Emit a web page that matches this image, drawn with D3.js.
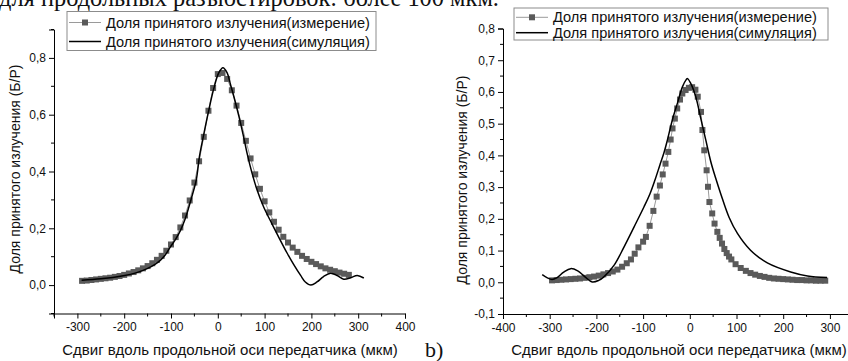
<!DOCTYPE html>
<html>
<head>
<meta charset="utf-8">
<script src="https://cdn.jsdelivr.net/npm/d3@7/dist/d3.min.js"></script>
<style>
  html, body { margin: 0; padding: 0; background: #fff; }
  svg { display: block; }
  text { font-family: "Liberation Sans", Arial, sans-serif; fill: #111; }
  .serif { font-family: "Liberation Serif", "Times New Roman", serif; }
</style>
</head>
<body>
<svg id="chart" width="848" height="361"></svg>
<script>
// ---- Panel a: measured and simulated received fraction ----
const measAX = [-290,-280,-270,-260,-250,-240,-230,-220,-210,-200,-190,-180,-170,-160,-150,-140,-130,-120,-110,-100,-90,-80,-70,-60,-50,-40,-30,-20,-10,0,10,20,30,40,50,60,70,80,90,100,110,120,130,140,150,160,170,180,190,200,210,220,230,240,250,260,270,280];
const measAY = [0.015,0.016,0.018,0.020,0.022,0.024,0.026,0.029,0.032,0.036,0.041,0.046,0.052,0.059,0.067,0.077,0.089,0.103,0.121,0.143,0.169,0.203,0.245,0.298,0.361,0.436,0.522,0.614,0.694,0.743,0.747,0.726,0.686,0.632,0.571,0.508,0.446,0.390,0.339,0.295,0.256,0.223,0.195,0.170,0.150,0.132,0.117,0.103,0.092,0.082,0.074,0.066,0.059,0.054,0.049,0.044,0.040,0.036];
const simAX = [-291,-250,-202,-175,-152,-135,-123,-112,-102,-90,-80,-70,-62,-54,-46,-39,-30,-20,-9,2,11,20,27,34,45,54,63,73,84,98,116,132,148,162,177,187,199,212,226,241,255,269,284,298,312];
const simAY = [0.017,0.022,0.033,0.043,0.057,0.072,0.087,0.107,0.133,0.162,0.192,0.232,0.274,0.320,0.370,0.455,0.531,0.610,0.689,0.747,0.765,0.747,0.707,0.666,0.595,0.531,0.461,0.395,0.335,0.275,0.215,0.163,0.113,0.073,0.034,0.011,0.000,0.011,0.030,0.042,0.034,0.021,0.026,0.034,0.025];

// ---- Panel b ----
const measBX = [-295,-285,-275,-265,-255,-245,-235,-225,-215,-205,-195,-185,-175,-165,-155,-145,-135,-126,-118,-110,-100,-94,-86,-78,-71,-64,-58,-52,-46,-41,-37,-32,-27,-21,-16,-9,-2,5,12,17,24,27,31,36,39,42,48,53,59,64,69,74,79,84,89,98,109,120,130,140,150,160,170,180,190,200,210,220,230,240,250,260,270,280,290];
const measBY = [0.006,0.007,0.008,0.009,0.010,0.011,0.012,0.014,0.016,0.018,0.021,0.025,0.029,0.034,0.040,0.049,0.060,0.072,0.090,0.110,0.128,0.143,0.178,0.225,0.270,0.305,0.340,0.374,0.411,0.450,0.485,0.516,0.548,0.576,0.595,0.606,0.613,0.615,0.607,0.585,0.537,0.480,0.416,0.353,0.301,0.253,0.217,0.185,0.159,0.140,0.122,0.105,0.092,0.081,0.072,0.057,0.045,0.036,0.029,0.024,0.020,0.017,0.014,0.012,0.011,0.010,0.009,0.008,0.007,0.007,0.006,0.006,0.005,0.005,0.005];
const simBX = [-316,-305,-295,-285,-270,-255,-240,-225,-209,-195,-184,-162,-141,-119.5,-98,-85,-74,-64,-55,-48,-37.5,-26.6,-15.8,-8,-5,2,12.8,23.6,34.3,45,55,66,84,102,130,166,216,252,294];
const simBY = [0.024,0.014,0.009,0.014,0.032,0.043,0.036,0.018,0.001,0.006,0.017,0.054,0.111,0.174,0.238,0.280,0.325,0.370,0.410,0.448,0.511,0.564,0.616,0.638,0.642,0.627,0.585,0.516,0.448,0.380,0.330,0.280,0.205,0.154,0.101,0.061,0.0325,0.020,0.015];

// ---- Axis ticks and labels ----
const xTicksA = [-300,-200,-100,0,100,200,300,400];
const xMinorA = [-350,-250,-150,-50,50,150,250,350];
const yTicksA = [0,0.2,0.4,0.6,0.8];
const yMinorA = [-0.1,0.1,0.3,0.5,0.7,0.9];
const xTicksB = [-400,-300,-200,-100,0,100,200,300];
const xMinorB = [-350,-250,-150,-50,50,150,250];
const yTicksB = [-0.1,0,0.1,0.2,0.3,0.4,0.5,0.6,0.7,0.8];
const yMinorB = [-0.05,0.05,0.15,0.25,0.35,0.45,0.55,0.65,0.75];

const legendLabels = ["Доля принятого излучения(измерение)", "Доля принятого излучения(симуляция)"];
const xTitle = "Сдвиг вдоль продольной оси передатчика (мкм)";
const yTitle = "Доля принятого излучения (Б/Р)";
const headerText = "для продольных разъюстировок: более 100 мкм.";
const panelTag = "b)";

const svg = d3.select("#chart");
const fmt = v => d3.format(".1f")(v).replace(".", ",").replace("−", "-");

function drawPanel(p) {
  const x = d3.scaleLinear().domain(p.xDomain).range(p.xRange);
  const y = d3.scaleLinear().domain(p.yDomain).range(p.yRange);
  const g = svg.append("g");

  // x axis
  const xAxis = g.append("g").attr("transform", `translate(0,${p.yRange[0]})`)
    .call(d3.axisBottom(x).tickValues(p.xTicks).tickFormat(d => String(d)).tickSizeOuter(0).tickSize(5).tickPadding(4));
  xAxis.append("g").selectAll("line").data(p.xMinor).join("line")
    .attr("x1", d => x(d)).attr("x2", d => x(d)).attr("y1", 0).attr("y2", 3).attr("stroke", "#000");
  // y axis
  const yAxis = g.append("g").attr("transform", `translate(${p.xRange[0]},0)`)
    .call(d3.axisLeft(y).tickValues(p.yTicks).tickFormat(fmt).tickSizeOuter(0).tickSize(5).tickPadding(3));
  yAxis.append("g").selectAll("line").data(p.yMinor).join("line")
    .attr("y1", d => y(d)).attr("y2", d => y(d)).attr("x1", 0).attr("x2", -3).attr("stroke", "#000");
  g.selectAll(".domain").attr("stroke", "#000");
  g.selectAll(".tick line").attr("stroke", "#000");
  g.selectAll(".tick text").attr("font-size", 12).attr("fill", "#111")
    .style("font-family", '"Liberation Sans", Arial, sans-serif');

  // measured: thin grey polyline with square markers
  const lineM = d3.line().x((d, i) => x(p.mx[i])).y(d => y(d));
  g.append("path").attr("d", lineM(p.my)).attr("fill", "none").attr("stroke", "#9a9a9a").attr("stroke-width", 1);
  g.append("g").selectAll("rect").data(p.my).join("rect")
    .attr("x", (d, i) => x(p.mx[i]) - 3).attr("y", d => y(d) - 3)
    .attr("width", 6).attr("height", 6).attr("fill", "#5a5a5a");

  // simulation: smooth black curve
  const lineS = d3.line().x((d, i) => x(p.sx[i])).y(d => y(d)).curve(d3.curveCatmullRom.alpha(0.5));
  g.append("path").attr("d", lineS(p.sy)).attr("fill", "none").attr("stroke", "#000").attr("stroke-width", 1.5);

  // legend
  const L = p.legend;
  g.append("rect").attr("x", L.x).attr("y", L.y).attr("width", L.w).attr("height", L.h)
    .attr("fill", "#fff").attr("stroke", "#8c8c8c").attr("stroke-width", 1);
  [0, 1].forEach(i => {
    const ry = L.y + L.rows[i];
    g.append("line").attr("x1", L.x + 2).attr("x2", L.x + 34).attr("y1", ry).attr("y2", ry)
      .attr("stroke", i === 0 ? "#9a9a9a" : "#000").attr("stroke-width", i === 0 ? 1 : 1.5);
    if (i === 0) g.append("rect").attr("x", L.x + 15).attr("y", ry - 3).attr("width", 6).attr("height", 6).attr("fill", "#5a5a5a");
    g.append("text").attr("x", L.x + 39).attr("y", ry).attr("dy", "0.35em")
      .attr("font-size", 14.6).text(legendLabels[i]);
  });

  // titles
  g.append("text").attr("x", p.xTitlePos[0]).attr("y", p.xTitlePos[1]).attr("text-anchor", "middle")
    .attr("font-size", 15).text(xTitle);
  g.append("text").attr("transform", `translate(${p.yTitlePos[0]},${p.yTitlePos[1]}) rotate(-90)`)
    .attr("text-anchor", "middle").attr("dy", "0.35em").attr("font-size", 14).text(yTitle);
}

drawPanel({
  xDomain: [-350, 400], xRange: [54, 405],
  yDomain: [-0.1, 0.9], yRange: [313.5, 29.5],
  xTicks: xTicksA, xMinor: xMinorA, yTicks: yTicksA, yMinor: yMinorA,
  mx: measAX, my: measAY, sx: simAX, sy: simAY,
  legend: { x: 67, y: 11.5, w: 309, h: 39, rows: [11, 30] },
  xTitlePos: [230, 355], yTitlePos: [15, 169]
});

drawPanel({
  xDomain: [-400, 400], xRange: [503, 876.6],
  yDomain: [-0.1, 0.8], yRange: [314, 28.5],
  xTicks: xTicksB, xMinor: xMinorB, yTicks: yTicksB, yMinor: yMinorB,
  mx: measBX, my: measBY, sx: simBX, sy: simBY,
  legend: { x: 514, y: 8, w: 314, h: 32, rows: [9.3, 24.7] },
  xTitlePos: [679, 355], yTitlePos: [462, 180]
});

// running text line above the figure and the panel tag
svg.append("text").attr("class", "serif").attr("x", -1).attr("y", 6)
  .attr("font-size", 24.4).text(headerText);
svg.append("text").attr("class", "serif").attr("x", 425).attr("y", 357)
  .attr("font-size", 22).text(panelTag);
</script>
</body>
</html>
